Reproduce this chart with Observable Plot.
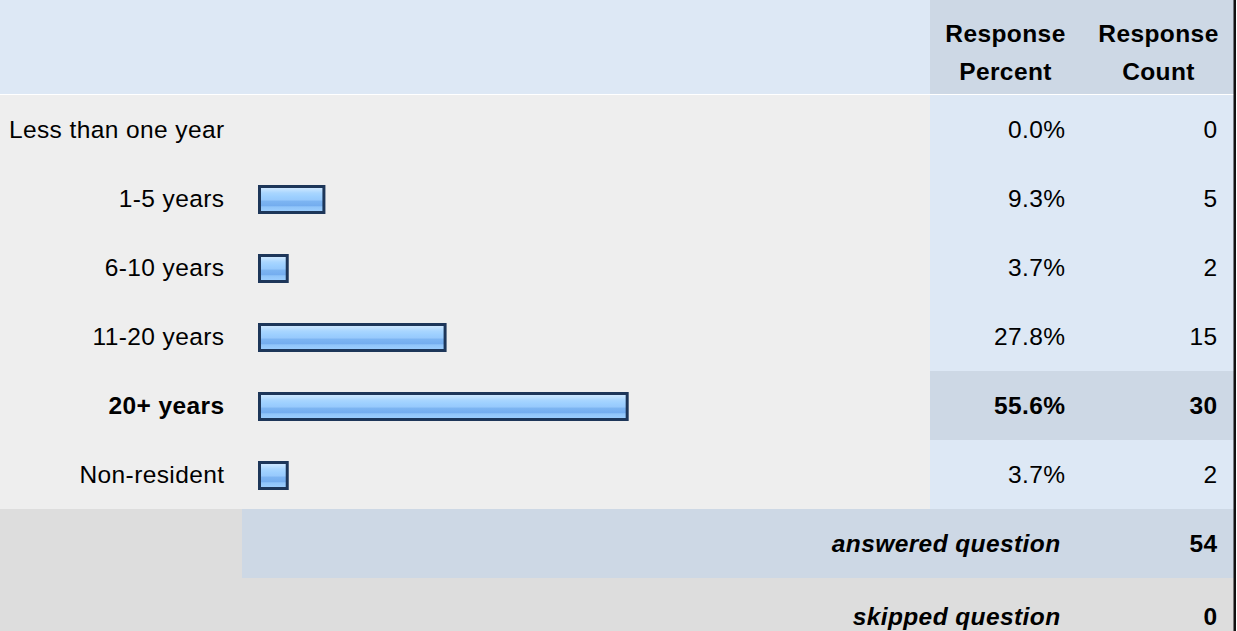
<!DOCTYPE html>
<html>
<head>
<meta charset="utf-8">
<script src="https://cdn.jsdelivr.net/npm/d3@7"></script>
<script src="https://cdn.jsdelivr.net/npm/@observablehq/plot@0.6"></script>
<style>
  html, body { margin: 0; padding: 0; background: #ffffff; }
  #chart svg { display: block; }
  #chart svg text { letter-spacing: 0.4px; }
</style>
</head>
<body>
<div id="chart"></div>
<script>
// ---- data ----
const categories = ["Less than one year", "1-5 years", "6-10 years", "11-20 years", "20+ years", "Non-resident"];
const percents = [0.0, 9.3, 3.7, 27.8, 55.6, 3.7];
const counts = [0, 5, 2, 15, 30, 2];
const headerLabels = ["Response\nPercent", "Response\nCount"];
const summaryLabels = ["answered question", "skipped question"];
const summaryCounts = [54, 0];

// ---- tables built from the arrays ----
const maxPct = d3.max(percents);
const rows = categories.map((c, i) => ({cat: c, pct: percents[i], count: counts[i], top: percents[i] === maxPct}));
const summary = summaryLabels.map((s, i) => ({cat: s, count: summaryCounts[i]}));
const rowDomain = [...categories, ...summaryLabels];

const W = 1237, H = 631;
const FONT = "'Liberation Sans', Arial, sans-serif";
const FS = 24.5;
const LIGHT = "#dde8f5", DARK = "#cdd8e5", GRAY = "#eeeeee", GRAY2 = "#dddddd";

const normalRows = rows.filter(d => !d.top);
const topRows = rows.filter(d => d.top);
const answered = summary.slice(0, 1);
const skipped = summary.slice(1);

const txt = (data, opts) => Plot.text(data, {fontSize: FS, fill: "#000", frameAnchor: "left", ...opts});

const svg = Plot.plot({
  width: W,
  height: H,
  margin: 0,
  style: {fontFamily: FONT, fontSize: FS + "px", background: "#ffffff", color: "#000"},
  x: {domain: [0, 100], range: [259.5, 914.5], axis: null},
  y: {type: "band", domain: rowDomain, range: [94, 94 + 8 * 69.35], padding: 0, axis: null},
  marks: [
    // header backgrounds
    Plot.rect([0], {fill: LIGHT, insetRight: W - 930, insetBottom: H - 94}),
    Plot.rect([0], {fill: DARK, insetLeft: 930, insetRight: W - 1234, insetBottom: H - 94}),
    // body row backgrounds
    Plot.rect(rows, {y: "cat", fill: GRAY, insetRight: W - 930}),
    Plot.rect(rows, {y: "cat", fill: d => d.top ? DARK : LIGHT, insetLeft: 930, insetRight: W - 1234}),
    // summary row backgrounds
    Plot.rect(answered, {y: "cat", fill: GRAY2, insetRight: W - 242}),
    Plot.rect(answered, {y: "cat", fill: DARK, insetLeft: 242, insetRight: W - 1234}),
    Plot.rect(skipped, {y: "cat", fill: GRAY2, insetRight: W - 1234}),
    // right border
    Plot.rect([0], {fill: "#111111", insetLeft: 1233.5, insetRight: W - 1236}),
    // bars
    Plot.barX(rows.filter(d => d.pct > 0), {
      y: "cat", x: "pct",
      fill: "#99ccff", stroke: "#1d3659", strokeWidth: 3,
      insetTop: 22.5, insetBottom: 20.5, insetRight: -3.5,
      ariaLabel: "bar"
    }),
    // header text
    ...headerLabels.map((h, i) => Plot.text([h], {
      text: d => d, frameAnchor: "top-left", lineAnchor: "top",
      dx: [1005, 1158][i], dy: 15, textAnchor: "middle",
      fontSize: FS, fontWeight: "bold", lineHeight: 1.54, fill: "#000"
    })),
    // category labels
    txt(normalRows, {y: "cat", text: "cat", dx: 224, textAnchor: "end"}),
    txt(topRows, {y: "cat", text: "cat", dx: 224, textAnchor: "end", fontWeight: "bold"}),
    // percent values
    txt(normalRows, {y: "cat", text: d => d.pct.toFixed(1) + "%", dx: 1065, textAnchor: "end"}),
    txt(topRows, {y: "cat", text: d => d.pct.toFixed(1) + "%", dx: 1065, textAnchor: "end", fontWeight: "bold"}),
    // counts
    txt(normalRows, {y: "cat", text: d => String(d.count), dx: 1217, textAnchor: "end"}),
    txt(topRows, {y: "cat", text: d => String(d.count), dx: 1217, textAnchor: "end", fontWeight: "bold"}),
    // summary rows
    txt(answered, {y: "cat", text: "cat", dx: 1060, textAnchor: "end", fontWeight: "bold", fontStyle: "italic"}),
    txt(answered, {y: "cat", text: d => String(d.count), dx: 1217, textAnchor: "end", fontWeight: "bold"}),
    txt(skipped, {y: "cat", text: "cat", dx: 1060, dy: 4, textAnchor: "end", fontWeight: "bold", fontStyle: "italic"}),
    txt(skipped, {y: "cat", text: d => String(d.count), dx: 1217, dy: 4, textAnchor: "end", fontWeight: "bold"})
  ]
});

// glossy gradient for the bars
const defs = d3.select(svg).insert("defs", ":first-child");
const grad = defs.append("linearGradient").attr("id", "barGrad")
  .attr("x1", 0).attr("y1", 0).attr("x2", 0).attr("y2", 1);
[
  [0.00, "#d4eaff"], [0.12, "#c2e2ff"], [0.25, "#a9d6ff"], [0.40, "#9ccfff"],
  [0.52, "#97c9fc"], [0.56, "#7db5f2"], [0.74, "#74adef"], [0.78, "#8fc4f9"],
  [1.00, "#9fd0ff"]
].forEach(([o, c]) => grad.append("stop").attr("offset", o).attr("stop-color", c));
d3.select(svg).selectAll('g[aria-label="bar"] rect').attr("fill", "url(#barGrad)");

document.getElementById("chart").appendChild(svg);
</script>
</body>
</html>
